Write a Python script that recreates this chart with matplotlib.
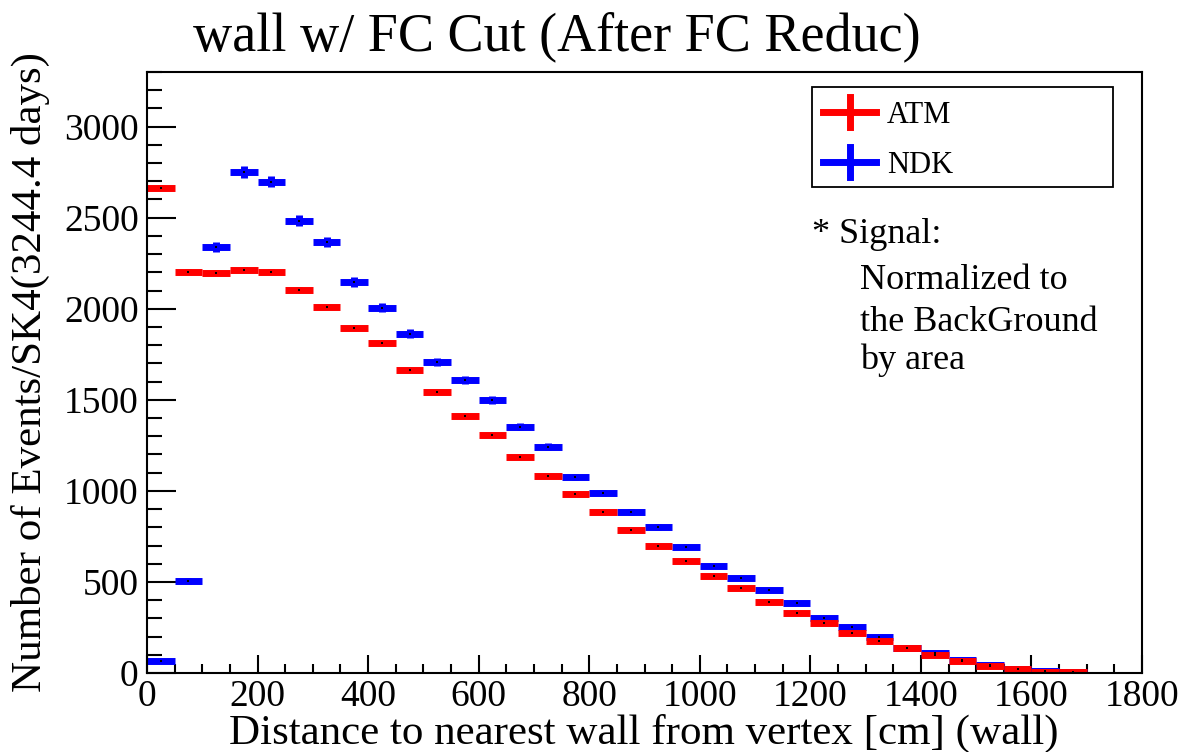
import numpy as np
import matplotlib
matplotlib.use('Agg')
import matplotlib.pyplot as plt
from matplotlib.patches import Rectangle
from matplotlib.lines import Line2D

plt.rcParams['font.family'] = ['Liberation Serif', 'DejaVu Serif']

# bins of 50 cm from 0 to 1700
bin_lo = np.arange(0, 1700, 50)
bin_w = 50

atm = [2665, 2203, 2198, 2214, 2203, 2104, 2011, 1896, 1813, 1665,
       1544, 1412, 1308, 1187, 1082, 984, 885, 786, 698, 615,
       533, 467, 390, 330, 275, 220, 176, 137, 99, 66,
       38, 22, 8, 3]
atm_err = [14, 13, 13, 13, 13, 13, 12, 12, 12, 11,
           11, 10, 10, 10, 9, 9, 8, 8, 7, 7,
           6, 6, 5, 5, 4, 4, 3, 3, 3, 2,
           2, 1, 1, 1]

ndk = [66, 505, 2340, 2753, 2698, 2484, 2368, 2148, 2005, 1863,
       1709, 1610, 1500, 1352, 1242, 1077, 989, 885, 802, 692,
       588, 522, 456, 385, 302, 253, 198, 137, 110, 71,
       44, 22, 11, 3]
ndk_err = [6, 16, 26, 33, 32, 29, 28, 26, 25, 24,
           23, 22, 21, 20, 19, 18, 17, 16, 15, 14,
           13, 12, 11, 10, 9, 8, 7, 6, 5, 4,
           3, 2, 2, 1]

W, H = 1184, 752
fig = plt.figure(figsize=(W / 100, H / 100), dpi=100)
ax = fig.add_axes([147 / W, 1 - 673 / H, (1142 - 147) / W, (673 - 72) / H])

xc = bin_lo + bin_w / 2
for vals, errs, col in [(ndk, ndk_err, '#0000ff'), (atm, atm_err, '#ff0000')]:
    ax.errorbar(xc, vals, xerr=bin_w / 2, yerr=errs, fmt='none',
                ecolor=col, elinewidth=5, capsize=0)
ax.plot(xc, ndk, 's', color='black', ms=1.5, mew=0)
ax.plot(xc, atm, 's', color='black', ms=1.5, mew=0)

ax.set_xlim(0, 1800)
ax.set_ylim(0, 3300)
ax.set_xticks(np.arange(0, 1801, 200))
ax.set_xticks(np.arange(0, 1801, 50), minor=True)
ax.set_yticks(np.arange(0, 3001, 500))
ax.set_yticks(np.arange(0, 3301, 100), minor=True)
ax.tick_params(axis='both', which='both', direction='in', width=1.5,
               top=False, right=False, labelsize=27)
ax.tick_params(axis='y', which='major', length=21, pad=6)
ax.tick_params(axis='y', which='minor', length=10.5)
ax.tick_params(axis='x', which='major', length=13, pad=5)
ax.tick_params(axis='x', which='minor', length=6.5)
for s in ax.spines.values():
    s.set_linewidth(1.5)


def fx(x):
    return x / W


def fy(y):
    return 1 - y / H


fig.text(fx(644), fy(744), 'Distance to nearest wall from vertex [cm] (wall)',
         fontsize=31, ha='center', va='baseline')
fig.text(fx(41), fy(372), 'Number of Events/SK4(3244.4 days)', fontsize=31,
         ha='center', va='baseline', rotation=90, rotation_mode='anchor')

fig.text(fx(557), fy(50), 'wall w/ FC Cut (After FC Reduc)', fontsize=39,
         ha='center', va='baseline')

# legend box
fig.patches.append(Rectangle((fx(812), fy(187)), fx(1113) - fx(812), fy(87) - fy(187),
                             transform=fig.transFigure, fill=False, ec='black', lw=1.3))
for yy, col, lab in [(112, '#ff0000', 'ATM'), (162, '#0000ff', 'NDK')]:
    fig.lines.append(Line2D([fx(823), fx(876)], [fy(yy), fy(yy)], color=col, lw=5,
                            transform=fig.transFigure))
    fig.lines.append(Line2D([fx(849.5), fx(849.5)], [fy(yy - 15), fy(yy + 15)], color=col, lw=5,
                            transform=fig.transFigure))
    fig.text(fx(887), fy(yy + 11), lab, fontsize=22, ha='left', va='baseline')

fig.text(fx(812), fy(243), '* Signal:', fontsize=26, ha='left', va='baseline')
for yy, t in [(289, 'Normalized to'), (331, 'the BackGround'), (369, 'by area')]:
    fig.text(fx(860), fy(yy), t, fontsize=26, ha='left', va='baseline')

fig.savefig('out.png', dpi=100)
